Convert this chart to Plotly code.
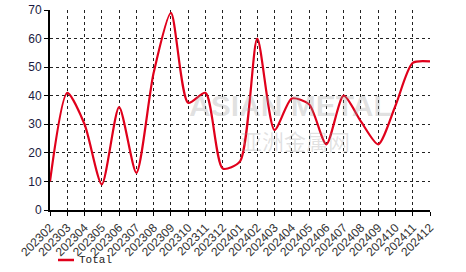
import plotly.graph_objects as go

months = ["202302","202303","202304","202305","202306","202307","202308","202309",
          "202310","202311","202312","202401","202402","202403","202404","202405",
          "202406","202407","202408","202409","202410","202411","202412"]
total = [10, 41, 30, 9, 36, 13, 48, 69, 37.5, 41, 14.5, 17, 60, 28, 39, 37,
         23, 40, 31, 23, 36.5, 51.5, 52]
y_ticks = [0, 10, 20, 30, 40, 50, 60, 70]

fig = go.Figure()
fig.add_trace(go.Scatter(
    x=months, y=total, mode="lines", name="Total", showlegend=False,
    line=dict(color="#e0001b", width=2.2, shape="spline", smoothing=0.7),
))

# watermark
fig.add_annotation(text="<b>ASIAN METAL</b>", x=0.634, y=0.525, xref="paper", yref="paper",
                   showarrow=False, font=dict(family="Liberation Sans Narrow, Liberation Sans", size=30,
                                              color="rgba(150,150,150,0.28)"))
fig.add_annotation(text="亚洲金属网", x=0.645, y=0.35, xref="paper", yref="paper",
                   showarrow=False, font=dict(family="Noto Sans CJK SC", size=22,
                                              color="rgba(150,150,150,0.28)"))

# legend (manual)
fig.add_shape(type="line", xref="paper", yref="paper", x0=(58-50)/380, x1=(74-50)/380,
              y0=-(260-210)/200, y1=-(260-210)/200, line=dict(color="#e0001b", width=2.5))
fig.add_annotation(text="Total", xref="paper", yref="paper", x=(77-50)/380, y=-(260-210)/200,
                   xanchor="left", yanchor="middle", showarrow=False,
                   font=dict(family="Liberation Mono", size=11, color="#222"))

fig.update_layout(
    width=466, height=272,
    margin=dict(l=50, r=36, t=10, b=62),
    paper_bgcolor="white", plot_bgcolor="white",
    showlegend=False,
    font=dict(family="Liberation Sans", size=11, color="#222"),
)
fig.update_xaxes(
    type="category", range=[0, len(months) - 1], automargin=False,
    tickangle=-45, tickfont=dict(size=12, color="#333"),
    showgrid=True, gridcolor="#222", griddash="dot", gridwidth=1,
    showline=True, linecolor="black", linewidth=2,
    ticks="outside", ticklen=4, tickcolor="black",
    mirror=False, zeroline=False,
)
fig.update_yaxes(
    range=[0, 70], tickvals=y_ticks, automargin=False,
    tickfont=dict(size=12, color="#1a1a40"),
    showgrid=True, gridcolor="#222", griddash="dot", gridwidth=1,
    showline=True, linecolor="black", linewidth=2,
    ticks="outside", ticklen=4, tickcolor="black",
    zeroline=False,
)
fig.write_html("out.html")
